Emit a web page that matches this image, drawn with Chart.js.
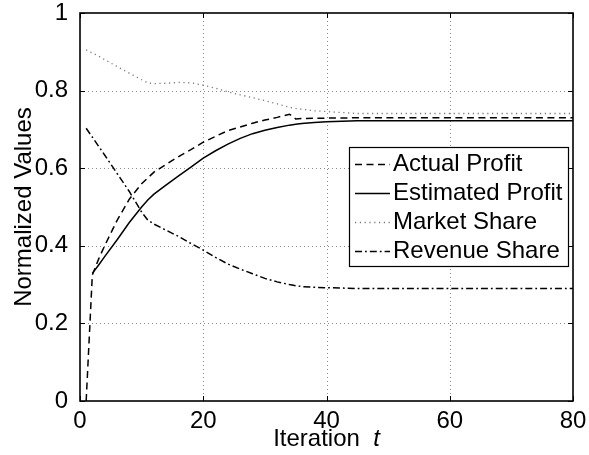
<!DOCTYPE html>
<html><head><meta charset="utf-8">
<script src="https://cdn.jsdelivr.net/npm/chart.js@4"></script>
<style>html,body{margin:0;padding:0;background:#fff}#wrap{width:589px;height:455px}</style>
</head><body><div id="wrap"><canvas id="c" width="589" height="455"></canvas></div>
<script>
const iterations     = [1, 2, 3, 4, 6, 8, 10, 11, 12, 14, 16, 18, 20, 22, 24, 26, 28, 30, 32, 34, 35, 36, 38, 40, 45, 50, 60, 70, 80];
const actualProfit   = [0, 0.325, 0.365, 0.40, 0.465, 0.52, 0.56, 0.575, 0.59, 0.61, 0.63, 0.648, 0.667, 0.682, 0.697, 0.706, 0.716, 0.724, 0.731, 0.739, 0.727, 0.728, 0.729, 0.729, 0.73, 0.73, 0.73, 0.73, 0.73];
const estimatedProfit= [null, 0.329, 0.35, 0.372, 0.415, 0.46, 0.50, 0.518, 0.533, 0.557, 0.58, 0.603, 0.626, 0.645, 0.662, 0.677, 0.689, 0.698, 0.705, 0.711, 0.713, 0.715, 0.718, 0.72, 0.722, 0.722, 0.722, 0.722, 0.722];
const marketShare    = [0.905, 0.897, 0.889, 0.88, 0.862, 0.845, 0.828, 0.82, 0.818, 0.819, 0.821, 0.82, 0.814, 0.806, 0.797, 0.789, 0.782, 0.774, 0.766, 0.757, 0.754, 0.752, 0.748, 0.746, 0.741, 0.741, 0.741, 0.741, 0.741];
const revenueShare   = [0.703, 0.68, 0.657, 0.634, 0.587, 0.54, 0.487, 0.466, 0.456, 0.44, 0.424, 0.406, 0.389, 0.37, 0.353, 0.34, 0.328, 0.316, 0.307, 0.30, 0.297, 0.295, 0.293, 0.292, 0.29, 0.29, 0.29, 0.29, 0.29];
const seriesNames    = ['Actual Profit', 'Estimated Profit', 'Market Share', 'Revenue Share'];
const xTicks = [0, 20, 40, 60, 80];
const yTicks = [0, 0.2, 0.4, 0.6, 0.8, 1];
const yTickLabels = ['0', '0.2', '0.4', '0.6', '0.8', '1'];
const xTickLabels = ['0', '20', '40', '60', '80'];
const xTitle = 'Iteration';
const xTitleVar = 't';
const yTitle = 'Normalized Values';

const FONT = '"Liberation Sans", Arial, Helvetica, sans-serif';
const FS = 24;
const toPts = arr => iterations.map((x, i) => ({x: x, y: arr[i]}));

const styles = [
  {color: '#000', width: 1.5, dash: [7, 4.5]},
  {color: '#000', width: 1.5, dash: []},
  {color: '#777', width: 1.3, dash: [1.2, 3.6]},
  {color: '#000', width: 1.5, dash: [7, 3, 1.8, 3]}
];
const seriesData = [actualProfit, estimatedProfit, marketShare, revenueShare];

const frame = {
  id: 'frame',
  beforeDatasetsDraw(chart) {
    const {ctx, chartArea: a, scales: {x, y}} = chart;
    ctx.save();
    ctx.strokeStyle = '#8a8a8a';
    ctx.lineWidth = 1;
    ctx.setLineDash([1, 3]);
    xTicks.forEach(v => {
      if (v === xTicks[0] || v === xTicks[xTicks.length - 1]) return;
      const px = Math.round(x.getPixelForValue(v)) + 0.5;
      ctx.beginPath(); ctx.moveTo(px, a.top); ctx.lineTo(px, a.bottom); ctx.stroke();
    });
    yTicks.forEach(v => {
      if (v === yTicks[0] || v === yTicks[yTicks.length - 1]) return;
      const py = Math.round(y.getPixelForValue(v)) + 0.5;
      ctx.beginPath(); ctx.moveTo(a.left, py); ctx.lineTo(a.right, py); ctx.stroke();
    });
    ctx.restore();
  },
  afterDatasetsDraw(chart) {
    const {ctx, chartArea: a, scales: {x, y}} = chart;
    ctx.save();
    ctx.setLineDash([]);
    ctx.strokeStyle = '#000';
    ctx.lineWidth = 1;
    const tl = 5;
    xTicks.forEach(v => {
      const px = Math.round(x.getPixelForValue(v)) + 0.5;
      ctx.beginPath(); ctx.moveTo(px, a.bottom); ctx.lineTo(px, a.bottom - tl); ctx.stroke();
      ctx.beginPath(); ctx.moveTo(px, a.top); ctx.lineTo(px, a.top + tl); ctx.stroke();
    });
    yTicks.forEach(v => {
      const py = Math.round(y.getPixelForValue(v)) + 0.5;
      ctx.beginPath(); ctx.moveTo(a.left, py); ctx.lineTo(a.left + tl, py); ctx.stroke();
      ctx.beginPath(); ctx.moveTo(a.right, py); ctx.lineTo(a.right - tl, py); ctx.stroke();
    });
    ctx.lineWidth = 1.6;
    ctx.strokeRect(a.left, a.top, a.right - a.left, a.bottom - a.top);

    // legend
    const bw = 219, bh = 119;
    const bx = a.right - 5 - bw, by = a.top + 134;
    ctx.fillStyle = '#fff';
    ctx.fillRect(bx, by, bw, bh);
    ctx.lineWidth = 1.2;
    ctx.strokeStyle = '#000';
    ctx.strokeRect(bx + 0.5, by + 0.5, bw, bh);
    ctx.font = FS + 'px ' + FONT;
    ctx.textBaseline = 'middle';
    ctx.textAlign = 'left';
    seriesNames.forEach((name, i) => {
      const cy = by + 16.5 + i * 29;
      const s = styles[i];
      ctx.strokeStyle = s.color; ctx.lineWidth = s.width; ctx.setLineDash(s.dash);
      ctx.beginPath(); ctx.moveTo(bx + 6, Math.round(cy) + 0.5); ctx.lineTo(bx + 41, Math.round(cy) + 0.5); ctx.stroke();
      ctx.setLineDash([]);
      ctx.fillStyle = '#000';
      ctx.fillText(name, bx + 44, cy + 1);
    });

    // axis titles
    ctx.fillStyle = '#000';
    ctx.textBaseline = 'middle';
    ctx.font = FS + 'px ' + FONT;
    const w1 = ctx.measureText(xTitle + '  ').width;
    ctx.font = 'italic ' + FS + 'px ' + FONT;
    const w2 = ctx.measureText(xTitleVar).width;
    const cx = (a.left + a.right) / 2;
    const sx = cx - (w1 + w2) / 2;
    const ty = a.bottom + 38;
    ctx.textAlign = 'left';
    ctx.font = FS + 'px ' + FONT;
    ctx.fillText(xTitle + '  ', sx, ty);
    ctx.font = 'italic ' + FS + 'px ' + FONT;
    ctx.fillText(xTitleVar, sx + w1, ty);

    ctx.save();
    ctx.translate(a.left - 56, (a.top + a.bottom) / 2);
    ctx.rotate(-Math.PI / 2);
    ctx.textAlign = 'center';
    ctx.font = FS + 'px ' + FONT;
    ctx.fillText(yTitle, 0, 0);
    ctx.restore();
    ctx.restore();
  }
};

new Chart(document.getElementById('c'), {
  type: 'line',
  data: {
    datasets: seriesNames.map((name, i) => ({
      label: name,
      data: toPts(seriesData[i]),
      borderColor: styles[i].color,
      borderWidth: styles[i].width,
      borderDash: styles[i].dash,
      pointRadius: 0,
      tension: 0,
      fill: false,
      spanGaps: false
    }))
  },
  options: {
    responsive: false,
    animation: false,
    devicePixelRatio: 1,
    layout: {padding: {top: 13, right: 16, left: 0, bottom: 0}},
    plugins: {legend: {display: false}, tooltip: {enabled: false}},
    scales: {
      x: {
        type: 'linear', min: 0, max: 80,
        afterBuildTicks: s => { s.ticks = xTicks.map(v => ({value: v})); },
        ticks: {
          callback: (v) => xTickLabels[xTicks.indexOf(v)],
          font: {family: FONT, size: FS}, color: '#000', padding: -2, maxRotation: 0, autoSkip: false
        },
        grid: {display: false}, border: {display: false},
        afterFit: s => { s.height = 54; s.paddingLeft = 0; s.paddingRight = 0; }
      },
      y: {
        type: 'linear', min: 0, max: 1,
        afterBuildTicks: s => { s.ticks = yTicks.map(v => ({value: v})); },
        ticks: {
          callback: (v) => yTickLabels[yTicks.indexOf(v)],
          font: {family: FONT, size: FS}, color: '#000', padding: 4, autoSkip: false
        },
        grid: {display: false}, border: {display: false},
        afterFit: s => { s.width = 80; s.paddingTop = 0; s.paddingBottom = 0; }
      }
    }
  },
  plugins: [frame]
});
</script>
</body></html>
